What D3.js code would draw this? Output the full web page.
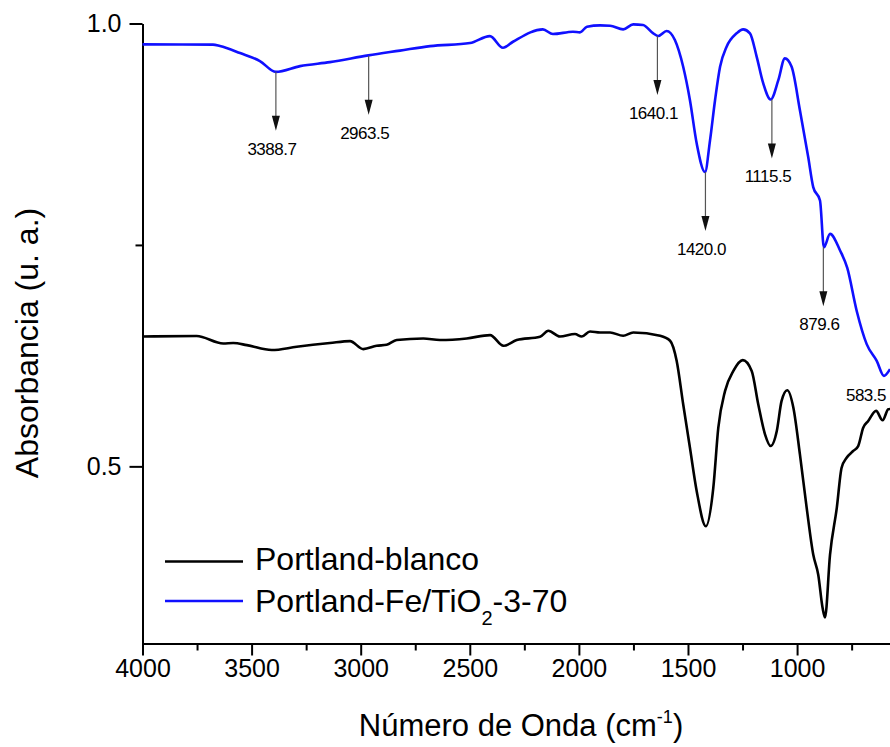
<!DOCTYPE html>
<html>
<head>
<meta charset="utf-8">
<script src="https://cdn.jsdelivr.net/npm/d3@7"></script>
<style>
    body { margin: 0; background: #fff; }
    svg { display: block; font-family: "Liberation Sans", Arial, sans-serif; }
</style>
</head>
<body>
<div id="chart"></div>
<script>
// Espectros FTIR - número de onda (cm-1) / absorbancia

// Portland-blanco (negro)
const wnBlanco = [4000, 3752, 3630, 3584, 3522, 3408, 3293, 3141, 3049, 2988, 2927, 2881, 2835, 2713, 2637, 2514,
    2407, 2346, 2285, 2178, 2140, 2087, 2018, 1987, 1949, 1903, 1857, 1797, 1751, 1628, 1582, 1552, 1522, 1491,
    1460, 1418, 1384, 1361, 1330, 1292, 1249, 1208, 1178, 1147, 1121, 1093, 1071, 1045, 1017, 987, 956, 926, 903,
    883, 872, 849, 818, 796, 773, 743, 720, 697, 674, 638, 608, 582, 574];
const absBlanco = [0.6466, 0.6471, 0.6387, 0.6392, 0.6369, 0.6313, 0.6350, 0.6392, 0.6414, 0.6324, 0.6361, 0.6373,
    0.6426, 0.6444, 0.6426, 0.6444, 0.6482, 0.6361, 0.6426, 0.6463, 0.6531, 0.6466, 0.6494, 0.6466, 0.6523, 0.6512,
    0.6512, 0.6474, 0.6512, 0.6474, 0.6418, 0.6192, 0.5701, 0.5210, 0.4720, 0.4324, 0.4758, 0.5437, 0.5852, 0.6078,
    0.6199, 0.6078, 0.5701, 0.5362, 0.5229, 0.5399, 0.5739, 0.5860, 0.5663, 0.5136, 0.4531, 0.4004, 0.3777, 0.3400,
    0.3294, 0.4004, 0.4531, 0.4984, 0.5097, 0.5173, 0.5229, 0.5437, 0.5512, 0.5626, 0.5520, 0.5645, 0.5648];

// Portland-Fe/TiO2-3-70 (azul)
const wnFeTiO2 = [4000, 3677, 3645, 3553, 3462, 3389, 3278, 3141, 2965, 2820, 2682, 2499, 2408, 2348, 2302, 2165,
    2119, 2027, 1995, 1963, 1903, 1857, 1797, 1751, 1706, 1659, 1636, 1598, 1560, 1522, 1491, 1460, 1422, 1399,
    1376, 1353, 1323, 1277, 1247, 1216, 1185, 1155, 1121, 1086, 1056, 1025, 987, 949, 926, 895, 877, 849, 803,
    770, 727, 681, 635, 602, 574];
const absFeTiO2 = [0.9764, 0.9762, 0.9745, 0.9666, 0.9576, 0.9454, 0.9519, 0.9564, 0.9640, 0.9694, 0.9745, 0.9779,
    0.9858, 0.9726, 0.9794, 0.9934, 0.9881, 0.9907, 0.9900, 0.9964, 0.9979, 0.9975, 0.9934, 0.9990, 0.9983, 0.9889,
    0.9859, 0.9915, 0.9813, 0.9511, 0.9134, 0.8644, 0.8323, 0.8681, 0.9134, 0.9511, 0.9737, 0.9889, 0.9934, 0.9889,
    0.9624, 0.9323, 0.9142, 0.9360, 0.9606, 0.9511, 0.9021, 0.8492, 0.8153, 0.8002, 0.7474, 0.7625, 0.7437, 0.7240,
    0.6757, 0.6380, 0.6191, 0.6022, 0.6098];

// Picos señalados sobre la curva azul
const peakWn = [3388.7, 2963.5, 1640.1, 1420.0, 1115.5, 879.6, 583.5];
const peakAbs = [0.9454, 0.9636, 0.9859, 0.8323, 0.9142, 0.7474, 0.6022];
const peakLabels = ["3388.7", "2963.5", "1640.1", "1420.0", "1115.5", "879.6", "583.5"];

// Ejes
const xMajor = [4000, 3500, 3000, 2500, 2000, 1500, 1000];
const xMinor = [3750, 3250, 2750, 2250, 1750, 1250, 750];
const yMajor = [0.5, 1.0];
const yMinor = [0.75];

const seriesNames = ["Portland-blanco", "Portland-Fe/TiO"];

const W = 890, H = 747;

const svg = d3.select("#chart").append("svg")
    .attr("width", W)
    .attr("height", H);

// Escalas (el gráfico original está recortado a la derecha)
const x = d3.scaleLinear().domain([4000, 400]).range([142.5, 928]);
const y = d3.scaleLinear().domain([0.3, 1.0]).range([643.5, 23.5]);

// Eje X
svg.append("g")
    .attr("transform", `translate(0,${y(0.3)})`)
    .call(d3.axisBottom(x).tickValues(xMajor).tickFormat(d3.format("d"))
        .tickSize(12).tickSizeOuter(0).tickPadding(4));

svg.append("g")
    .attr("transform", `translate(0,${y(0.3)})`)
    .call(d3.axisBottom(x).tickValues(xMinor).tickFormat("").tickSize(7).tickSizeOuter(0))
    .select(".domain").remove();

// Eje Y
svg.append("g")
    .attr("transform", `translate(${x(4000)},0)`)
    .call(d3.axisLeft(y).tickValues(yMajor).tickFormat(d3.format(".1f"))
        .tickSize(13).tickSizeOuter(0).tickPadding(8));

svg.append("g")
    .attr("transform", `translate(${x(4000)},0)`)
    .call(d3.axisLeft(y).tickValues(yMinor).tickFormat("").tickSize(7).tickSizeOuter(0))
    .select(".domain").remove();

svg.selectAll(".domain").attr("stroke", "#000").attr("stroke-width", 2);
svg.selectAll(".tick line").attr("stroke", "#000").attr("stroke-width", 2);
svg.selectAll(".tick text")
    .attr("font-family", "Liberation Sans, Arial, sans-serif")
    .attr("font-size", 25)
    .attr("fill", "#000");

// Títulos de ejes
svg.append("text")
    .attr("transform", `translate(38,343) rotate(-90)`)
    .attr("text-anchor", "middle")
    .attr("font-size", 32)
    .text("Absorbancia (u. a.)");

const xTitle = svg.append("text")
    .attr("x", 521)
    .attr("y", 736)
    .attr("text-anchor", "middle")
    .attr("font-size", 31);
xTitle.append("tspan").text("Número de Onda (cm");
xTitle.append("tspan").attr("font-size", 18).attr("dy", -13).text("-1");
xTitle.append("tspan").attr("dy", 13).text(")");

// Curvas
const line = d3.line()
    .x(d => x(d[0]))
    .y(d => y(d[1]))
    .curve(d3.curveMonotoneX);

const series = [
    { wn: wnBlanco, abs: absBlanco, color: "#000000" },
    { wn: wnFeTiO2, abs: absFeTiO2, color: "#1010ff" }
];

series.forEach(s => {
    svg.append("path")
        .datum(d3.zip(s.wn, s.abs))
        .attr("fill", "none")
        .attr("stroke", s.color)
        .attr("stroke-width", 2.6)
        .attr("stroke-linejoin", "round")
        .attr("d", line);
});

// Flechas y etiquetas de picos
const ARROW_LEN = 59;
peakWn.forEach((wn, i) => {
    const px = x(wn);
    const py = y(peakAbs[i]);
    const last = i === peakWn.length - 1;

    if (!last) {
        const tip = py + ARROW_LEN;
        svg.append("line")
            .attr("x1", px).attr("x2", px)
            .attr("y1", py).attr("y2", tip - 10)
            .attr("stroke", "#555")
            .attr("stroke-width", 1.2);
        svg.append("path")
            .attr("d", `M${px - 4},${tip - 15}L${px + 4},${tip - 15}L${px},${tip}Z`)
            .attr("fill", "#111");
        svg.append("text")
            .attr("x", px - 4)
            .attr("y", tip + 24)
            .attr("text-anchor", "middle")
            .attr("font-size", 17)
            .attr("letter-spacing", -0.5)
            .text(peakLabels[i]);
    } else {
        // etiqueta pegada al borde derecho
        svg.append("text")
            .attr("x", 886)
            .attr("y", py + 25)
            .attr("text-anchor", "end")
            .attr("font-size", 17)
            .attr("letter-spacing", -0.5)
            .text(peakLabels[i]);
    }
});

// Leyenda
const legend = svg.append("g");
series.forEach((s, i) => {
    const ly = 561.5 + i * 39.5;
    legend.append("line")
        .attr("x1", 165).attr("x2", 243)
        .attr("y1", ly).attr("y2", ly)
        .attr("stroke", s.color)
        .attr("stroke-width", 2.6);
    const t = legend.append("text")
        .attr("x", 255)
        .attr("y", ly + 8 + i * 3)
        .attr("font-size", 32);
    t.append("tspan").text(seriesNames[i]);
    if (i === 1) {
        t.append("tspan").attr("font-size", 20).attr("dy", 13).text("2");
        t.append("tspan").attr("dy", -13).text("-3-70");
    }
});
</script>
</body>
</html>
